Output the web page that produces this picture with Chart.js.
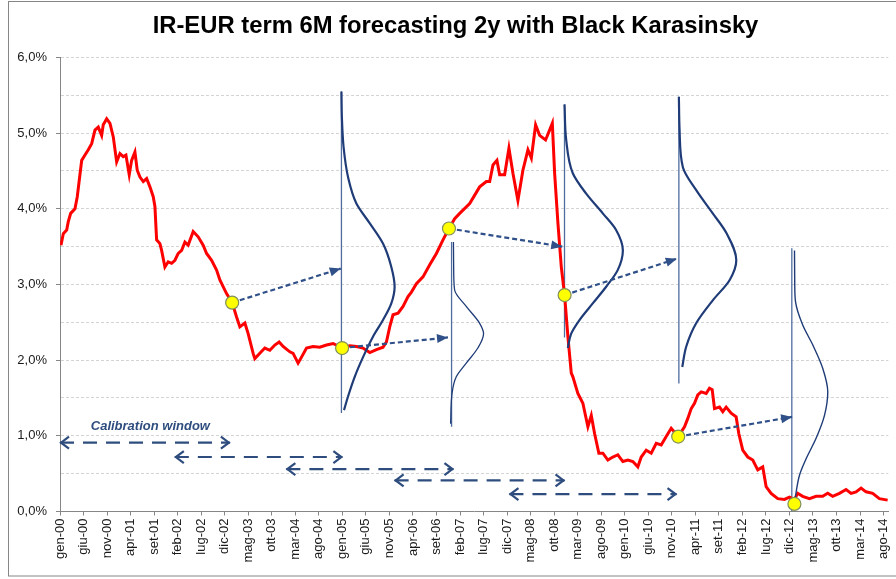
<!DOCTYPE html>
<html><head><meta charset="utf-8">
<script src="https://cdn.jsdelivr.net/npm/chart.js@4/dist/chart.umd.min.js"></script>
<style>html,body{margin:0;padding:0;background:#fff;}canvas{display:block;}</style>
</head><body>
<canvas id="c" width="896" height="579"></canvas>
<script>
// ---- x axis tick labels (every 5 months from gen-00) ----
const tickLabels = ['gen-00','giu-00','nov-00','apr-01','set-01','feb-02','lug-02','dic-02','mag-03','ott-03','mar-04','ago-04','gen-05','giu-05','nov-05','apr-06','set-06','feb-07','lug-07','dic-07','mag-08','ott-08','mar-09','ago-09','gen-10','giu-10','nov-10','apr-11','set-11','feb-12','lug-12','dic-12','mag-13','ott-13','mar-14','ago-14'];

// ---- 6M EUR rate (months since gen-00, %) ----
const rateMonths = [0.21,0.70,1.42,1.76,2.27,3.18,3.67,4.10,4.61,5.31,6.01,6.73,7.43,8.13,8.85,9.19,9.92,10.62,11.32,12.04,12.74,13.44,14.01,14.71,15.22,15.92,16.41,16.99,17.69,18.41,19.11,19.81,20.17,20.53,21.23,21.59,22.29,22.99,23.72,24.42,25.12,25.84,26.54,27.24,28.30,29.36,30.42,31.15,32.21,33.27,33.97,35.39,36.58,37.52,38.22,39.28,39.98,41.04,41.40,42.46,43.52,44.59,45.65,46.56,47.41,48.83,49.53,50.59,51.32,52.38,53.78,55.20,56.62,58.03,59.94,61.57,62.99,64.39,65.82,67.24,68.64,69.36,70.06,70.76,71.83,72.89,73.95,74.67,75.73,77.13,78.56,79.98,81.38,82.65,83.86,84.93,87.05,89.17,90.59,91.30,92.00,92.84,93.42,94.48,95.39,96.24,97.30,98.36,99.43,100.15,101.06,101.91,103.18,104.03,104.61,105.10,105.80,106.52,107.22,107.92,108.64,108.98,109.70,110.04,111.10,112.17,112.89,113.59,114.50,115.35,116.41,117.47,118.53,119.60,120.66,121.72,122.78,123.50,124.56,125.63,126.69,127.75,128.81,129.87,131.36,132.70,133.40,134.12,134.82,135.52,136.24,137.30,138.00,138.58,139.07,140.13,140.83,141.55,142.61,143.67,144.23,145.07,146.14,147.20,148.26,149.32,150.04,151.10,152.51,153.93,154.99,156.05,156.75,157.81,159.24,160.66,162.06,163.12,164.18,165.61,167.03,168.09,169.15,170.21,171.27,172.68,174.10,175.86];
const rateValues = [3.52,3.67,3.72,3.83,3.94,4.00,4.16,4.38,4.64,4.71,4.78,4.86,5.04,5.08,4.97,5.11,5.19,5.13,4.95,4.62,4.73,4.69,4.71,4.45,4.64,4.75,4.51,4.42,4.36,4.40,4.29,4.16,4.03,3.59,3.54,3.45,3.23,3.30,3.28,3.32,3.41,3.45,3.56,3.52,3.70,3.63,3.52,3.41,3.32,3.19,3.06,2.88,2.76,2.57,2.44,2.49,2.35,2.09,2.02,2.09,2.16,2.13,2.20,2.24,2.18,2.11,2.09,1.96,2.04,2.16,2.18,2.17,2.20,2.22,2.16,2.19,2.18,2.16,2.10,2.14,2.17,2.24,2.44,2.60,2.62,2.71,2.84,2.90,3.01,3.10,3.26,3.41,3.59,3.74,3.87,3.94,4.07,4.29,4.36,4.36,4.58,4.64,4.45,4.45,4.80,4.47,4.11,4.51,4.78,4.67,5.11,4.97,4.91,5.04,5.13,4.47,3.81,3.23,2.86,2.31,1.83,1.78,1.63,1.56,1.43,1.12,1.27,1.03,0.77,0.77,0.68,0.72,0.75,0.66,0.68,0.66,0.59,0.72,0.81,0.77,0.90,0.88,0.99,1.10,0.99,1.12,1.23,1.36,1.43,1.54,1.58,1.56,1.63,1.61,1.36,1.38,1.32,1.38,1.30,1.25,1.03,0.81,0.72,0.68,0.55,0.59,0.33,0.24,0.17,0.16,0.19,0.16,0.24,0.20,0.17,0.20,0.20,0.24,0.20,0.24,0.29,0.24,0.26,0.31,0.26,0.24,0.17,0.15];

// ---- forecast start points (yellow dots) ----
const forecastMonths = [36.58, 59.94, 82.65, 107.22, 131.36, 156.05];
const forecastRates  = [2.76, 2.16, 3.74, 2.86, 0.99, 0.10];

// ---- forecast arrows ends ----
const arrowEndMonths = [59.66, 82.44, 106.73, 131.06, 155.56];
const arrowEndRates  = [3.21, 2.30, 3.50, 3.34, 1.25];

// ---- calibration windows ----
const calibStart = [0, 24.4, 48.1, 71.1, 95.5];
const calibEnd   = [36.1, 60, 83.6, 107.2, 131];
const calibLevel = [0.91, 0.72, 0.56, 0.41, 0.23];

// ---- distribution baselines ----
const distMonths = [59.8, 83.2, 107.2, 131.5, 155.5];
const distTop    = [5.55, 3.56, 5.38, 5.48, 3.48];
const distBottom = [1.30, 1.12, 2.30, 1.69, 0.00];

// ---- distribution curves: rate level and width (months) ----
const curve1Rates = [5.55,5.2,4.82,4.42,4.07,3.81,3.54,3.23,2.97,2.75,2.53,2.31,2.04,1.78,1.52,1.34];
const curve1Width = [0,0.1,0.45,1.4,3.18,6.0,8.83,10.6,11.3,10.6,8.83,6.7,4.59,2.82,1.40,0.55];
const curve2Rates = [3.56,3.2,2.93,2.71,2.49,2.35,2.16,1.96,1.78,1.56,1.16];
const curve2Width = [0.4,0.45,0.64,3.12,5.94,6.8,5.58,3.12,1.0,0.1,-0.2];
const curve3Rates = [5.38,4.91,4.47,4.20,3.94,3.72,3.45,3.19,2.97,2.75,2.53,2.35,2.16];
const curve3Width = [0,0.36,1.76,4.61,8.13,10.96,12.4,11.3,8.85,6.0,3.18,1.42,0.70];
const curve4Rates = [5.48,5.04,4.55,4.25,3.94,3.68,3.32,3.06,2.79,2.49,2.18,1.91];
const curve4Width = [0,0.15,0.85,3.65,7.2,10.1,12.2,10.8,7.2,3.7,1.57,0.72];
const curve5Rates = [3.45,3.0,2.77,2.46,2.20,1.89,1.58,1.27,0.97,0.70,0.48,0.26,0.10];
const curve5Width = [0.57,0.62,0.79,2.34,4.46,6.58,7.64,6.94,5.18,3.06,1.63,0.93,0.57];

const curves = [
  [curve1Rates, curve1Width, 2.2],
  [curve2Rates, curve2Width, 1.3],
  [curve3Rates, curve3Width, 2.2],
  [curve4Rates, curve4Width, 2.2],
  [curve5Rates, curve5Width, 1.4]
];

const NAVY = '#1F3C78', BASE = '#4E6C9E', ARROW = '#2F5089', CAL = '#2E4D7E';

const datasets = [];
datasets.push({
  label:'dots', data: forecastMonths.map((m,i)=>({x:m,y:forecastRates[i]})),
  showLine:false, pointRadius:6.5, pointBackgroundColor:'#FFFF00', pointBorderColor:'#7F8F5A', pointBorderWidth:1.2, order:0
});
forecastMonths.slice(0,5).forEach((m,i)=>{
  datasets.push({label:'fc'+i, data:[{x:m,y:forecastRates[i]},{x:arrowEndMonths[i],y:arrowEndRates[i]}],
    showLine:true, pointRadius:0, borderColor:ARROW, borderWidth:2.2, borderDash:[5,3], order:1});
});
calibStart.forEach((s,i)=>{
  datasets.push({label:'cal'+i, data:[{x:s,y:calibLevel[i]},{x:calibEnd[i],y:calibLevel[i]}],
    showLine:true, pointRadius:0, borderColor:CAL, borderWidth:2.2, borderDash:[14,9], order:1, clip:false});
});
curves.forEach((c,i)=>{
  datasets.push({label:'curve'+i, data:c[0].map((r,j)=>({x:distMonths[i]+c[1][j], y:r})),
    indexAxis:'y', showLine:true, pointRadius:0, borderColor:NAVY, borderWidth:c[2],
    cubicInterpolationMode:'monotone', order:2});
});
datasets.push({label:'rate', data: rateMonths.map((m,i)=>({x:m,y:rateValues[i]})),
  showLine:true, pointRadius:0, borderColor:'#FF0000', borderWidth:3, tension:0, order:3});
distMonths.forEach((m,i)=>{
  datasets.push({label:'base'+i, data:[{x:m,y:distTop[i]},{x:m,y:distBottom[i]}],
    showLine:true, pointRadius:0, borderColor:BASE, borderWidth:1.3, order:4});
});

const overlay = {
  id:'overlay',
  afterLayout(chart){
    if (chart.titleBlock) { chart.titleBlock.left += 22; }
  },
  beforeDraw(chart){
    const ctx = chart.ctx;
    ctx.save();
    ctx.fillStyle='#fff'; ctx.fillRect(0,0,chart.width,chart.height);
    ctx.strokeStyle='#868686'; ctx.lineWidth=1;
    ctx.strokeRect(8.5,1.5,900,574.5);
    ctx.restore();
  },
  afterDatasetsDraw(chart){
    const ctx = chart.ctx, xs = chart.scales.x, ys = chart.scales.y;
    ctx.save();
    ctx.fillStyle = ARROW;
    arrowEndMonths.forEach((m,i)=>{
      const x1 = xs.getPixelForValue(forecastMonths[i]), y1 = ys.getPixelForValue(forecastRates[i]);
      const x2 = xs.getPixelForValue(m), y2 = ys.getPixelForValue(arrowEndRates[i]);
      const a = Math.atan2(y2-y1, x2-x1), L = 11, W = 4.5;
      ctx.beginPath();
      ctx.moveTo(x2, y2);
      ctx.lineTo(x2 - L*Math.cos(a) + W*Math.sin(a), y2 - L*Math.sin(a) - W*Math.cos(a));
      ctx.lineTo(x2 - L*Math.cos(a) - W*Math.sin(a), y2 - L*Math.sin(a) + W*Math.cos(a));
      ctx.closePath(); ctx.fill();
    });
    ctx.strokeStyle = CAL; ctx.lineWidth = 2.2; ctx.lineJoin='miter';
    calibStart.forEach((s,i)=>{
      const y = ys.getPixelForValue(calibLevel[i]);
      const xa = xs.getPixelForValue(s), xb = xs.getPixelForValue(calibEnd[i]);
      ctx.beginPath();
      ctx.moveTo(xa+9, y-6); ctx.lineTo(xa+1, y); ctx.lineTo(xa+9, y+6);
      ctx.moveTo(xb-9, y-6); ctx.lineTo(xb-1, y); ctx.lineTo(xb-9, y+6);
      ctx.stroke();
    });
    ctx.fillStyle = CAL;
    ctx.font = 'italic bold 13px "Liberation Sans", Arial, sans-serif';
    ctx.textAlign='center'; ctx.textBaseline='middle';
    ctx.fillText('Calibration window', xs.getPixelForValue(19.2), ys.getPixelForValue(1.13));
    ctx.restore();
  }
};

new Chart(document.getElementById('c'), {
  type:'scatter',
  data:{datasets},
  options:{
    responsive:false, animation:false,
    layout:{padding:{left:0,right:7,top:0,bottom:0}},
    plugins:{
      legend:{display:false}, tooltip:{enabled:false},
      title:{display:true, text:'IR-EUR term 6M forecasting 2y with Black Karasinsky', color:'#000',
        font:{family:'"Liberation Sans", Arial, sans-serif', size:23.8, weight:'bold'}, padding:{top:12,bottom:16.9}}
    },
    scales:{
      x:{type:'linear', min:0, max:176,
        afterFit(s){ s.height = 67.5; s.paddingLeft = 0; s.paddingRight = 0; },
        border:{color:'#868686', width:1},
        grid:{drawOnChartArea:false, drawTicks:true, tickLength:4, tickColor:'#868686'},
        ticks:{stepSize:5, includeBounds:false, autoSkip:false, maxRotation:90, minRotation:90, padding:3,
          color:'#1a1a1a', font:{family:'"Liberation Sans", Arial, sans-serif', size:13},
          callback:(v)=> tickLabels[Math.round(v/5)] || ''}
      },
      y:{type:'linear', min:0, max:6,
        afterFit(s){ s.width = 60; s.paddingTop = 0; s.paddingBottom = 0; },
        border:{color:'#868686', width:1, dash:[3,2]},
        grid:{color:(c)=> c.tick && c.tick.value===0 ? 'rgba(0,0,0,0)' : '#D4D4D4', lineWidth:1,
          tickLength:4, tickColor:(c)=> (c.tick && Math.abs(c.tick.value - Math.round(c.tick.value))<1e-6) ? '#868686' : 'rgba(0,0,0,0)'},
        ticks:{stepSize:0.5, padding:9, color:'#1a1a1a', font:{family:'"Liberation Sans", Arial, sans-serif', size:13},
          callback:(v)=> Math.abs(v-Math.round(v))<1e-6 ? v.toFixed(1).replace('.',',')+'%' : ''}
      }
    }
  },
  plugins:[overlay]
});
</script>
</body></html>
